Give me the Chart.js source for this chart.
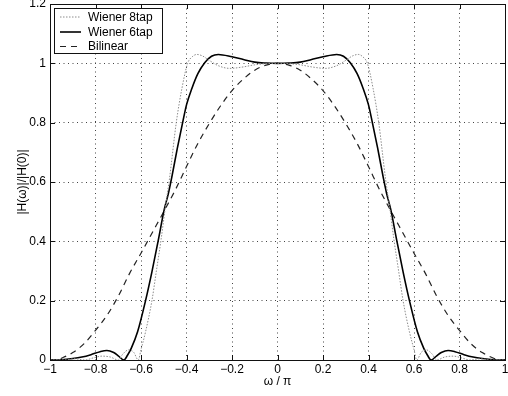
<!DOCTYPE html>
<html><head><meta charset="utf-8">
<script src="https://cdn.jsdelivr.net/npm/chart.js@4/dist/chart.umd.min.js"></script>
<style>html,body{margin:0;padding:0;background:#fff}canvas{display:block}</style>
</head><body>
<canvas id="c" width="508" height="396"></canvas>
<script>
const seriesNames = ['Wiener 8tap', 'Wiener 6tap', 'Bilinear'];
const xTickLabels = ['−1','−0.8','−0.6','−0.4','−0.2','0','0.2','0.4','0.6','0.8','1'];
const yTickLabels = ['0','0.2','0.4','0.6','0.8','1','1.2'];
const xAxisTitle = 'ω / π';
const yAxisTitle = '|H(ω)|/|H(0)|';

const w8X = [-1,-0.94,-0.89,-0.846,-0.81,-0.772,-0.735,-0.70,-0.68,-0.655,-0.632,-0.612,-0.60,-0.58,-0.552,-0.533,-0.511,-0.493,-0.475,-0.445,-0.42,-0.395,-0.375,-0.355,-0.33,-0.30,-0.26,-0.21,-0.15,-0.10,-0.05,0,
  0.05,0.10,0.15,0.21,0.26,0.30,0.33,0.355,0.375,0.395,0.42,0.445,0.475,0.493,0.511,0.533,0.552,0.58,0.60,0.612,0.632,0.655,0.68,0.70,0.735,0.772,0.81,0.846,0.89,0.94,1];
const w8Y = [0,0,0.004,0,0.007,0.013,0.010,0,0.020,0.034,0.026,0,0.035,0.095,0.20,0.297,0.41,0.515,0.61,0.80,0.916,1.000,1.022,1.030,1.025,1.010,0.992,0.983,0.988,0.995,0.999,1.000,
  0.999,0.995,0.988,0.983,0.992,1.010,1.025,1.030,1.022,1.000,0.916,0.80,0.61,0.515,0.41,0.297,0.20,0.095,0.035,0,0.026,0.034,0.020,0,0.010,0.013,0.007,0,0.004,0,0];

const w6X = [-1,-0.95,-0.90,-0.86,-0.82,-0.78,-0.75,-0.72,-0.70,-0.675,-0.66,-0.643,-0.615,-0.58,-0.552,-0.525,-0.497,-0.48,-0.465,-0.44,-0.417,-0.40,-0.376,-0.35,-0.32,-0.29,-0.26,-0.20,-0.15,-0.10,-0.05,0,
  0.05,0.10,0.15,0.20,0.26,0.29,0.32,0.35,0.376,0.40,0.417,0.44,0.465,0.48,0.497,0.525,0.552,0.58,0.615,0.643,0.66,0.675,0.70,0.72,0.75,0.78,0.82,0.86,0.90,0.95,1];
const w6Y = [0,0.001,0.005,0.010,0.018,0.028,0.032,0.025,0.014,0,0.015,0.039,0.095,0.20,0.297,0.40,0.51,0.56,0.615,0.715,0.80,0.86,0.916,0.965,1.002,1.024,1.030,1.022,1.013,1.004,1.001,1.000,
  1.001,1.004,1.013,1.022,1.030,1.024,1.002,0.965,0.916,0.86,0.80,0.715,0.615,0.56,0.51,0.40,0.297,0.20,0.095,0.039,0.015,0,0.014,0.025,0.032,0.028,0.018,0.010,0.005,0.001,0];

const biX = [-1,-0.97,-0.95,-0.90,-0.85,-0.80,-0.75,-0.70,-0.65,-0.60,-0.55,-0.50,-0.45,-0.40,-0.35,-0.30,-0.25,-0.20,-0.15,-0.10,-0.05,0,
  0.05,0.10,0.15,0.20,0.25,0.30,0.35,0.40,0.45,0.50,0.55,0.60,0.65,0.70,0.75,0.80,0.85,0.90,0.95,0.97,1];
const biY = [0,0,0.006,0.025,0.055,0.10,0.15,0.215,0.292,0.36,0.43,0.50,0.572,0.652,0.73,0.797,0.857,0.908,0.947,0.977,0.994,1.0,
  0.994,0.977,0.947,0.908,0.857,0.797,0.73,0.652,0.572,0.50,0.43,0.36,0.292,0.215,0.15,0.10,0.055,0.025,0.006,0,0];

const pts = (xs, ys) => xs.map((x, i) => ({x, y: ys[i]}));

Chart.defaults.font.family = '"Liberation Sans", Arial, Helvetica, sans-serif';
Chart.defaults.font.size = 12;
Chart.defaults.color = '#000';

const framePlugin = {
  id: 'frame',
  beforeDraw(chart) {
    const ctx = chart.ctx;
    ctx.save(); ctx.fillStyle = '#fff'; ctx.fillRect(0, 0, chart.width, chart.height); ctx.restore();
  },
  afterDraw(chart) {
    const {ctx, chartArea: a, scales} = chart;
    ctx.save();
    ctx.strokeStyle = '#111';
    ctx.lineWidth = 1;
    ctx.setLineDash([]);
    ctx.strokeRect(Math.round(a.left) + 0.5, Math.round(a.top) + 0.5, Math.round(a.right - a.left), Math.round(a.bottom - a.top));
    const tl = 5;
    ctx.beginPath();
    scales.x.ticks.forEach(t => {
      const px = Math.round(scales.x.getPixelForValue(t.value)) + 0.5;
      ctx.moveTo(px, a.bottom); ctx.lineTo(px, a.bottom - tl);
      ctx.moveTo(px, a.top); ctx.lineTo(px, a.top + tl);
    });
    scales.y.ticks.forEach(t => {
      const py = Math.round(scales.y.getPixelForValue(t.value)) + 0.5;
      ctx.moveTo(a.left, py); ctx.lineTo(a.left + tl, py);
      ctx.moveTo(a.right, py); ctx.lineTo(a.right - tl, py);
    });
    ctx.stroke();
    // legend box
    const lx = 54.5, ly = 8.5, lw = 108, lh = 45;
    ctx.fillStyle = '#fff';
    ctx.fillRect(lx, ly, lw, lh);
    ctx.strokeStyle = '#111';
    ctx.strokeRect(lx, ly, lw, lh);
    const rows = [17, 32, 46.5];
    chart.data.datasets.forEach((ds, i) => {
      const y = rows[i];
      ctx.save();
      ctx.strokeStyle = ds.borderColor;
      ctx.lineWidth = ds.borderWidth;
      ctx.setLineDash(ds.borderDash || []);
      ctx.beginPath(); ctx.moveTo(60, y); ctx.lineTo(81, y); ctx.stroke();
      ctx.restore();
      ctx.fillStyle = '#000';
      ctx.font = '12px "Liberation Sans", Arial, sans-serif';
      ctx.textBaseline = 'middle';
      ctx.textAlign = 'left';
      ctx.fillText(ds.label, 88, y + 0.5);
    });
    ctx.restore();
  }
};

new Chart(document.getElementById('c'), {
  type: 'line',
  data: {
    datasets: [
      {label: seriesNames[0], data: pts(w8X, w8Y), borderColor: '#8c8c8c', borderWidth: 1, borderDash: [1.5, 1.5]},
      {label: seriesNames[1], data: pts(w6X, w6Y), borderColor: '#000', borderWidth: 1.6, borderDash: []},
      {label: seriesNames[2], data: pts(biX, biY), borderColor: '#222', borderWidth: 1.2, borderDash: [6, 5]}
    ]
  },
  options: {
    responsive: false,
    animation: false,
    devicePixelRatio: 1,
    layout: {padding: {left: 0, right: 3, top: 4, bottom: 0}},
    elements: {point: {radius: 0}, line: {cubicInterpolationMode: 'monotone', fill: false}},
    plugins: {legend: {display: false}, tooltip: {enabled: false}},
    scales: {
      x: {
        type: 'linear', min: -1, max: 1,
        ticks: {stepSize: 0.2, padding: 2, color: '#000', maxRotation: 0, autoSkip: false,
          callback: (v, i) => xTickLabels[i]},
        grid: {color: '#444', lineWidth: 1, drawTicks: false},
        border: {display: false, dash: [1, 3.5]},
        title: {display: true, text: xAxisTitle, color: '#000', padding: {top: 0, bottom: 7}},
        afterFit(s) { s.height = 36; s.paddingLeft = 0; s.paddingRight = 0; s.paddingTop = 0; s.paddingBottom = 0; }
      },
      y: {
        type: 'linear', min: 0, max: 1.2,
        ticks: {stepSize: 0.2, padding: 4, color: '#000', autoSkip: false,
          callback: (v, i) => yTickLabels[i]},
        grid: {color: '#444', lineWidth: 1, drawTicks: false},
        border: {display: false, dash: [1, 3.5]},
        title: {display: true, text: yAxisTitle, color: '#000', padding: {top: 15, bottom: 0}},
        afterFit(s) { s.width = 50; s.paddingLeft = 0; s.paddingRight = 0; s.paddingTop = 0; s.paddingBottom = 0; }
      }
    }
  },
  plugins: [framePlugin]
});
</script>
</body></html>
